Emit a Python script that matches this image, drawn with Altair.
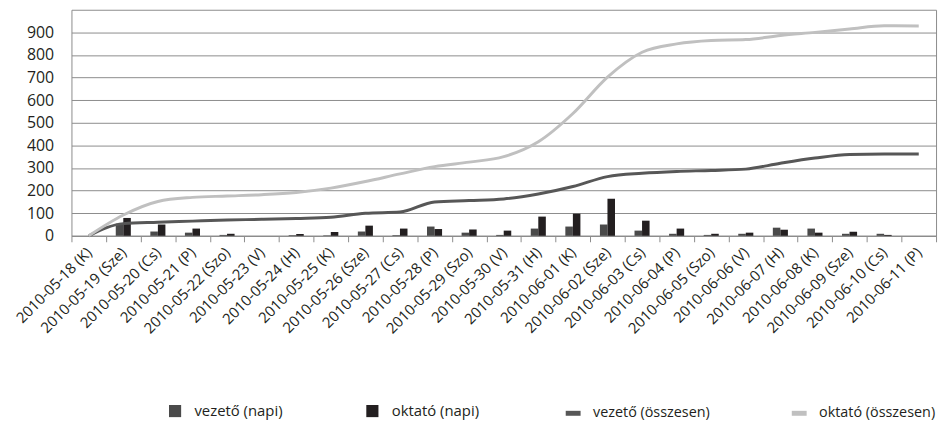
import altair as alt
import pandas as pd

dates = ["2010-05-18 (K)", "2010-05-19 (Sze)", "2010-05-20 (Cs)", "2010-05-21 (P)",
         "2010-05-22 (Szo)", "2010-05-23 (V)", "2010-05-24 (H)", "2010-05-25 (K)",
         "2010-05-26 (Sze)", "2010-05-27 (Cs)", "2010-05-28 (P)", "2010-05-29 (Szo)",
         "2010-05-30 (V)", "2010-05-31 (H)", "2010-06-01 (K)", "2010-06-02 (Sze)",
         "2010-06-03 (Cs)", "2010-06-04 (P)", "2010-06-05 (Szo)", "2010-06-06 (V)",
         "2010-06-07 (H)", "2010-06-08 (K)", "2010-06-09 (Sze)", "2010-06-10 (Cs)",
         "2010-06-11 (P)"]

vezeto_napi = [0, 54, 19, 14, 4, 0, 3, 3, 19, 3, 41, 14, 4, 32, 41, 50, 23, 9, 4, 9, 36, 32, 9, 9, 0]
oktato_napi = [0, 79, 50, 32, 9, 0, 8, 17, 45, 32, 30, 28, 23, 85, 98, 164, 67, 32, 9, 14, 27, 14, 18, 4, 0]
vezeto_ossz = [0, 54, 60, 65, 70, 73, 77, 82, 100, 105, 150, 156, 163, 185, 218, 262, 277, 285, 289, 295, 321, 344, 360, 362, 362]
oktato_ossz = [0, 92, 152, 170, 176, 182, 192, 211, 240, 274, 306, 326, 350, 416, 541, 702, 812, 849, 864, 868, 886, 900, 915, 929, 928]

y_ticks = [0, 100, 200, 300, 400, 500, 600, 700, 800, 900]

bar_names = ["vezető (napi)", "oktató (napi)"]
line_names = ["vezető (összesen)", "oktató (összesen)"]

bars_df = pd.DataFrame(
    [{"datum": d, "sor": bar_names[0], "ertek": v} for d, v in zip(dates, vezeto_napi)]
    + [{"datum": d, "sor": bar_names[1], "ertek": v} for d, v in zip(dates, oktato_napi)]
)
lines_df = pd.DataFrame(
    [{"datum": d, "vonal": line_names[0], "ertek": v} for d, v in zip(dates, vezeto_ossz)]
    + [{"datum": d, "vonal": line_names[1], "ertek": v} for d, v in zip(dates, oktato_ossz)]
)

FONT = "Open Sans"
TXT = "#231f20"
GRID = "#8c8c8c"

x_axis = alt.Axis(title=None, labelAngle=-45, labelAlign="right", labelBaseline="middle",
                  labelFont=FONT, labelFontSize=15, labelColor=TXT, labelOverlap=False,
                  labelPadding=8, tickBand="extent", tickColor=GRID, tickSize=6,
                  domainColor=GRID, grid=False)
y_axis = alt.Axis(title=None, values=y_ticks, grid=True, gridColor=GRID,
                  gridWidth=1, ticks=False, domain=False, labelPadding=18, labelOverlap=False,
                  labelFont=FONT, labelFontSize=16, labelColor=TXT)

x_enc = alt.X("datum:N", sort=dates, scale=alt.Scale(paddingInner=0, paddingOuter=0), axis=x_axis)
y_enc = alt.Y("ertek:Q", scale=alt.Scale(domain=[0, 1000], nice=False), axis=y_axis)

bars = alt.Chart(bars_df).mark_bar().encode(
    x=x_enc,
    xOffset=alt.XOffset("sor:N", sort=bar_names,
                        scale=alt.Scale(range=[9.8, 25.0], paddingInner=0, paddingOuter=0)),
    y=y_enc,
    color=alt.Color("sor:N", sort=bar_names,
                    scale=alt.Scale(domain=bar_names, range=["#4a4a4a", "#231f20"]),
                    legend=alt.Legend(title=None, orient="none", legendX=97, legendY=397,
                                      direction="horizontal", columnPadding=83,
                                      symbolType="square", symbolSize=150, symbolStrokeWidth=0,
                                      labelOffset=12, labelFont=FONT, labelFontSize=15,
                                      labelColor=TXT, padding=0)),
)

lines = alt.Chart(lines_df).mark_line(strokeWidth=3, interpolate="monotone").encode(
    x=x_enc,
    y=y_enc,
    stroke=alt.Stroke("vonal:N", sort=line_names,
                      scale=alt.Scale(domain=line_names, range=["#575757", "#c0c0c0"]),
                      legend=alt.Legend(title=None, orient="none", legendX=496, legendY=397,
                                        direction="horizontal", columnPadding=72,
                                        symbolType="stroke", symbolSize=225, symbolStrokeWidth=5,
                                        labelOffset=10, labelFont=FONT, labelFontSize=14.5,
                                        labelColor=TXT, padding=0)),
)

chart = alt.layer(bars, lines).properties(
    width=872, height=228,
    autosize=alt.AutoSizeParams(type="none"),
    padding={"left": 64, "top": 0, "right": 5, "bottom": 185},
).configure_view(stroke=GRID, strokeWidth=1)

chart.save("out.html", embed_options={"renderer": "svg", "actions": False})
